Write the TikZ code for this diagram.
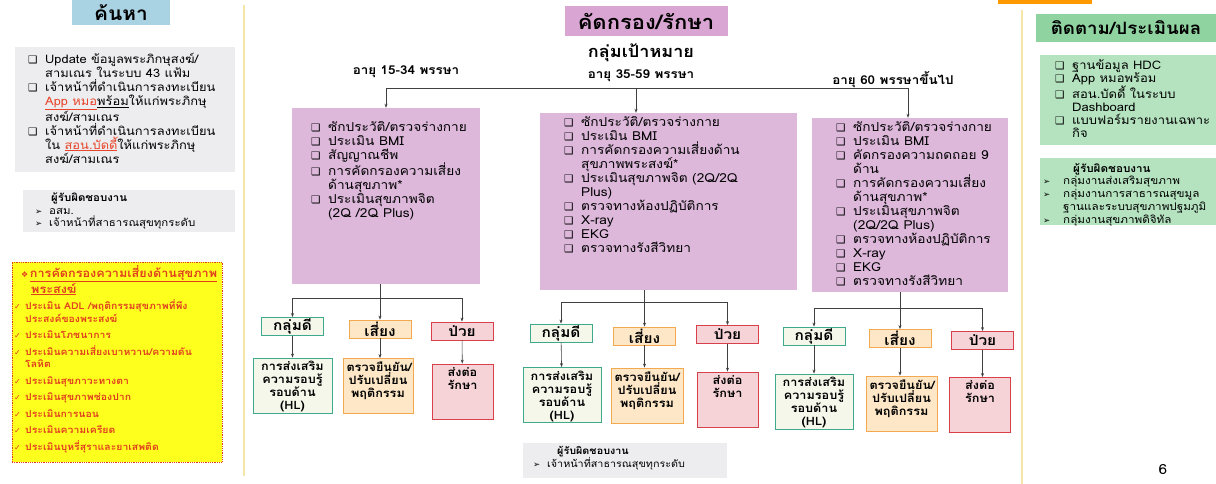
\documentclass[tikz,border=0pt]{standalone}
\usepackage{fontspec}
\setmainfont[Script=Thai, FakeStretch=1.1]{Loma}
\newfontfamily\symfont{DejaVu Sans}
\usetikzlibrary{arrows.meta}

\definecolor{hdrblue}{HTML}{A9D2E3}
\definecolor{hdrpink}{HTML}{D9A6D3}
\definecolor{boxpink}{HTML}{DDB8DB}
\definecolor{hdrgreen}{HTML}{8FD3A0}
\definecolor{boxgreen}{HTML}{B5E3C0}
\definecolor{boxgrey}{HTML}{EDEDEF}
\definecolor{boxyellow}{HTML}{FFFF1E}
\definecolor{redtext}{HTML}{E0401E}
\definecolor{linkred}{HTML}{E8452A}
\definecolor{goodline}{HTML}{3FA98C}
\definecolor{goodfill}{HTML}{F4F7EA}
\definecolor{riskline}{HTML}{F2A950}
\definecolor{riskfill}{HTML}{FDE7C6}
\definecolor{sickline}{HTML}{D8414C}
\definecolor{sickfill}{HTML}{F6D3D7}
\definecolor{linegrey}{HTML}{404040}
\definecolor{panelline}{HTML}{F6E7A8}

\newcommand{\chk}{\makebox[17pt][l]{\symfont\fontsize{10.5}{10}\selectfont ❑}}
\newcommand{\ind}{\hspace*{17pt}}
\newcommand{\arw}{\makebox[14pt][l]{\symfont\fontsize{8.5}{8}\selectfont ➢}}
\newcommand{\tick}{\makebox[11pt][l]{\symfont\fontsize{8}{8}\selectfont ✓}}
\newcommand{\leaf}[2]{\parbox[c][48pt][t]{#1}{\centering #2}}

\begin{document}
\begin{tikzpicture}[x=1pt, y=-1pt,
    listtext/.style={anchor=north west, inner sep=0, align=left, font=\fontsize{12.4}{14}\selectfont},
    hdr/.style={inner sep=0, font=\bfseries\fontsize{18}{20}\selectfont},
    plainbox/.style={inner sep=0},
    lvl/.style={draw, line width=0.8, inner sep=0, minimum width=62, minimum height=18, font=\bfseries\fontsize{14}{15}\selectfont},
    good/.style={lvl, draw=goodline, fill=goodfill},
    risk/.style={lvl, draw=riskline, fill=riskfill},
    sick/.style={lvl, draw=sickline, fill=sickfill},
    leafnode/.style={draw, line width=0.8, inner sep=3.5, font=\bfseries\fontsize{11.5}{13}\selectfont},
    agetext/.style={font=\bfseries\fontsize{12.2}{13}\selectfont},
    link/.style={draw=linegrey, line width=0.6},
    arr/.style={link, -{Stealth[length=4pt, width=3pt]}}]
    \useasboundingbox (0,0) rectangle (1216,484);

    % panel lines and top strip
    \draw[panelline, line width=1.2] (244,5) -- (244,476);
    \draw[panelline, line width=1.2] (1022,10) -- (1022,484);
    \fill[orange!80!yellow] (998,0) rectangle (1092,4);

    % left column
    \node at (121,12.5) (hdrFind) [hdr, fill=hdrblue, minimum width=98, minimum height=25, font=\bfseries\fontsize{19}{20}\selectfont] {ค้นหา};
    \node at (125,110) (findBox) [plainbox, fill=boxgrey, minimum width=220, minimum height=125] {};
    \node at (28,53) (findTxt) [listtext, font=\fontsize{11.7}{14}\selectfont] {\chk Update ข้อมูลพระภิกษุสงฆ์/\\
        \ind สามเณร ในระบบ 43 แฟ้ม\\
        \chk เจ้าหน้าที่ดำเนินการลงทะเบียน\\
        \ind \textcolor{linkred}{\underline{App หมอ}}\underline{พร้อม}ให้แก่พระภิกษุ\\
        \ind สงฆ์/สามเณร\\
        \chk เจ้าหน้าที่ดำเนินการลงทะเบียน\\
        \ind ใน \textcolor{linkred}{\underline{สอน.บัดดี้}}ให้แก่พระภิกษุ\\
        \ind สงฆ์/สามเณร};
    \node at (129,211) (findResp) [plainbox, fill=boxgrey, minimum width=212, minimum height=42] {};
    \node at (35,193) (findRespTxt) [listtext, font=\fontsize{10.4}{12.5}\selectfont] {\hspace*{16pt}\textbf{ผู้รับผิดชอบงาน}\\
        \arw อสม.\\
        \arw เจ้าหน้าที่สาธารณสุขทุกระดับ};

    \node at (117,362) (screenBox) [plainbox, fill=boxyellow, draw=redtext, densely dotted, line width=0.8, minimum width=210, minimum height=200] {};
    \node at (14,265) (screenTxt) [listtext, text=redtext, font=\bfseries\fontsize{9.5}{12.5}\selectfont] {\hspace*{7pt}{\symfont\fontsize{8}{8}\selectfont ❖}\,{\fontsize{11.5}{12.5}\selectfont\underline{การคัดกรองความเสี่ยงด้านสุขภาพ}}\\
        \hspace*{17pt}{\fontsize{11.5}{12.5}\selectfont\underline{พระสงฆ์}}\\[4pt]
        \tick ประเมิน ADL /พฤติกรรมสุขภาพที่พึง\\
        \hspace*{11pt}ประสงค์ของพระสงฆ์\\[4pt]
        \tick ประเมินโภชนาการ\\[4pt]
        \tick ประเมินความเสี่ยงเบาหวาน/ความดัน\\
        \hspace*{11pt}โลหิต\\[4pt]
        \tick ประเมินสุขภาวะทางตา\\[4pt]
        \tick ประเมินสุขภาพช่องปาก\\[4pt]
        \tick ประเมินการนอน\\[4pt]
        \tick ประเมินความเครียด\\[4pt]
        \tick ประเมินบุหรี่สุราและยาเสพติด};

    % centre column
    \node at (646,21) (hdrScreen) [hdr, fill=hdrpink, minimum width=163, minimum height=30, font=\bfseries\fontsize{20}{22}\selectfont] {คัดกรอง/รักษา};
    \node at (641,53) (target) [font=\bfseries\fontsize{16.4}{18}\selectfont] {กลุ่มเป้าหมาย};
    \node at (406,72) (ageA) [agetext] {อายุ 15-34 พรรษา};
    \node at (641,76) (ageB) [agetext] {อายุ 35-59 พรรษา};
    \node at (893,80) (ageC) [agetext] {อายุ 60 พรรษาขึ้นไป};

    \node at (386,196) (boxA) [plainbox, fill=boxpink, minimum width=188, minimum height=176] {};
    \node at (668.5,201.5) (boxB) [plainbox, fill=boxpink, minimum width=257, minimum height=177] {};
    \node at (910,205) (boxC) [plainbox, fill=boxpink, minimum width=196, minimum height=174] {};

    \node at (311,121) (txtA) [listtext] {\chk ซักประวัติ/ตรวจร่างกาย\\
        \chk ประเมิน BMI\\
        \chk สัญญาณชีพ\\
        \chk การคัดกรองความเสี่ยง\\
        \ind ด้านสุขภาพ*\\
        \chk ประเมินสุขภาพจิต\\
        \ind (2Q /2Q Plus)};
    \node at (564,116) (txtB) [listtext] {\chk ซักประวัติ/ตรวจร่างกาย\\
        \chk ประเมิน BMI\\
        \chk การคัดกรองความเสี่ยงด้าน\\
        \ind สุขภาพพระสงฆ์*\\
        \chk ประเมินสุขภาพจิต (2Q/2Q\\
        \ind Plus)\\
        \chk ตรวจทางห้องปฏิบัติการ\\
        \chk X-ray\\
        \chk EKG\\
        \chk ตรวจทางรังสีวิทยา};
    \node at (836,121) (txtC) [listtext] {\chk ซักประวัติ/ตรวจร่างกาย\\
        \chk ประเมิน BMI\\
        \chk คัดกรองความถดถอย 9\\
        \ind ด้าน\\
        \chk การคัดกรองความเสี่ยง\\
        \ind ด้านสุขภาพ*\\
        \chk ประเมินสุขภาพจิต\\
        \ind (2Q/2Q Plus)\\
        \chk ตรวจทางห้องปฏิบัติการ\\
        \chk X-ray\\
        \chk EKG\\
        \chk ตรวจทางรังสีวิทยา};

    % target groups to boxes
    \coordinate (topA) at (386,88);
    \coordinate (topB) at (636,88);
    \coordinate (topC) at (908,88);
    \draw[link] (topA) -- (topC);
    \draw[arr] (topA) -- (boxA.north);
    \draw[arr] (topB) -- (topB |- boxB.north);
    \draw[arr] (topC) -- (topC |- boxC.north);

    % group A results
    \node at (292.5,326.5) (gA) [good] {กลุ่มดี};
    \node at (380,329) (rA) [risk] {เสี่ยง};
    \node at (462,331) (sA) [sick] {ป่วย};
    \node at (292.5,385.5) (hA) [leafnode, draw=goodline, fill=goodfill] {\leaf{72pt}{การส่งเสริม\\ความรอบรู้\\รอบด้าน\\(HL)}};
    \node at (378,386) (cA) [leafnode, draw=riskline, fill=riskfill] {\leaf{63pt}{ตรวจยืนยัน/\\ปรับเปลี่ยน\\พฤติกรรม}};
    \node at (462.5,391.5) (dA) [leafnode, draw=sickline, fill=sickfill] {\leaf{54pt}{ส่งต่อ\\รักษา}};
    \coordinate (jA) at (380,298);
    \draw[link] (jA |- boxA.south) -- (jA);
    \draw[link] (gA |- jA) -- (sA |- jA);
    \draw[arr] (gA |- jA) -- (gA);
    \draw[arr] (jA) -- (rA);
    \draw[arr] (sA |- jA) -- (sA);
    \draw[arr] (gA) -- (hA);
    \draw[arr] (rA.south) -- (rA.south |- cA.north);
    \draw[arr] (sA) -- (dA);

    % group B results
    \node at (561,333) (gB) [good] {กลุ่มดี};
    \node at (644.5,336) (rB) [risk] {เสี่ยง};
    \node at (727.5,334.5) (sB) [sick] {ป่วย};
    \node at (562,395) (hB) [leafnode, draw=goodline, fill=goodfill] {\leaf{71pt}{การส่งเสริม\\ความรอบรู้\\รอบด้าน\\(HL)}};
    \node at (647,395.5) (cB) [leafnode, draw=riskline, fill=riskfill] {\leaf{65pt}{ตรวจยืนยัน/\\ปรับเปลี่ยน\\พฤติกรรม}};
    \node at (727.5,399.5) (dB) [leafnode, draw=sickline, fill=sickfill] {\leaf{54pt}{ส่งต่อ\\รักษา}};
    \coordinate (jB) at (644.5,302);
    \draw[link] (jB |- boxB.south) -- (jB);
    \draw[link] (gB |- jB) -- (sB |- jB);
    \draw[arr] (gB |- jB) -- (gB);
    \draw[arr] (jB) -- (rB);
    \draw[arr] (sB |- jB) -- (sB);
    \draw[arr] (gB) -- (hB);
    \draw[arr] (rB.south) -- (rB.south |- cB.north);
    \draw[arr] (sB) -- (dB);

    % group C results
    \node at (814,336) (gC) [good] {กลุ่มดี};
    \node at (900,338.5) (rC) [risk] {เสี่ยง};
    \node at (982.5,340.5) (sC) [sick] {ป่วย};
    \node at (814,401.5) (hC) [leafnode, draw=goodline, fill=goodfill] {\leaf{71pt}{การส่งเสริม\\ความรอบรู้\\รอบด้าน\\(HL)}};
    \node at (901.5,403.5) (cC) [leafnode, draw=riskline, fill=riskfill] {\leaf{64pt}{ตรวจยืนยัน/\\ปรับเปลี่ยน\\พฤติกรรม}};
    \node at (980,405) (dC) [leafnode, draw=sickline, fill=sickfill] {\leaf{54pt}{ส่งต่อ\\รักษา}};
    \coordinate (jC) at (900,308);
    \draw[link] (jC |- boxC.south) -- (jC);
    \draw[link] (gC |- jC) -- (sC |- jC);
    \draw[arr] (gC |- jC) -- (gC);
    \draw[arr] (jC) -- (rC);
    \draw[arr] (sC |- jC) -- (sC);
    \draw[arr] (gC) -- (hC);
    \draw[arr] (rC.south) -- (rC.south |- cC.north);
    \draw[arr] (sC.south) -- (sC.south |- dC.north);

    % centre responsibility
    \node at (625,460.5) (treatResp) [plainbox, fill=boxgrey, minimum width=204, minimum height=35] {};
    \node at (533,446) (treatRespTxt) [listtext, font=\fontsize{9.8}{13}\selectfont] {\hspace*{24pt}\textbf{ผู้รับผิดชอบงาน}\\
        \arw เจ้าหน้าที่สาธารณสุขทุกระดับ};

    % right column
    \node at (1126,28) (hdrFollow) [hdr, fill=hdrgreen, minimum width=180, minimum height=28, font=\bfseries\fontsize{17}{20}\selectfont] {ติดตาม/ประเมินผล};
    \node at (1128,100) (followBox) [plainbox, fill=boxgreen, minimum width=176, minimum height=90] {};
    \node at (1055,59) (followTxt) [listtext, font=\fontsize{11.8}{13.2}\selectfont] {\chk ฐานข้อมูล HDC\\
        \chk App หมอพร้อม\\
        \chk สอน.บัดดี้ ในระบบ\\
        \ind Dashboard\\
        \chk แบบฟอร์มรายงานเฉพาะ\\
        \ind กิจ};
    \node at (1128,191.5) (followResp) [plainbox, fill=boxgreen, minimum width=176, minimum height=67] {};
    \node at (1043,163) (followRespTxt) [listtext, font=\fontsize{10.6}{12.8}\selectfont] {\hspace*{30pt}\textbf{ผู้รับผิดชอบงาน}\\
        \makebox[20pt][l]{\symfont\fontsize{8.5}{8}\selectfont ➢}กลุ่มงานส่งเสริมสุขภาพ\\
        \makebox[20pt][l]{\symfont\fontsize{8.5}{8}\selectfont ➢}กลุ่มงานการสาธารณสุขมูล\\
        \hspace*{20pt}ฐานและระบบสุขภาพปฐมภูมิ\\
        \makebox[20pt][l]{\symfont\fontsize{8.5}{8}\selectfont ➢}กลุ่มงานสุขภาพดิจิทัล};

    % page number
    \node at (1163,470) (pageNo) [font=\fontsize{14}{16}\selectfont] {6};
\end{tikzpicture}
\end{document}
